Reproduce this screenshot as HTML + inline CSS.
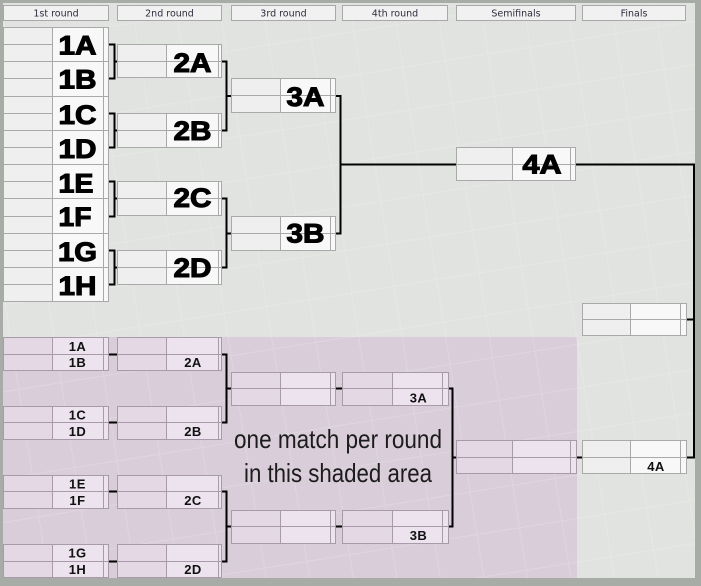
<!DOCTYPE html>
<html><head><meta charset="utf-8"><style>
html,body{margin:0;padding:0;background:#a7aca7;}
svg{display:block;}
.gl{fill:#efefef}.gw{fill:#f8f8f8}.gs{stroke:#a9a9a9;fill:none;stroke-width:1;shape-rendering:crispEdges}
.pl{fill:#e3d8e4}.pw{fill:#ece3ee}.ps{stroke:#a99aaa;fill:none;stroke-width:1;shape-rendering:crispEdges}
.k{stroke:#000;stroke-width:2;fill:none}
.hd{font-family:"DejaVu Sans","Liberation Sans",sans-serif;font-size:9.5px;fill:#2d2d3d;text-anchor:middle}
.big{font-family:"Liberation Sans",Arial,sans-serif;font-weight:bold;font-size:27px;fill:#000;stroke:#000;stroke-width:1.1;text-anchor:middle}
.sm{font-family:"Liberation Sans",Arial,sans-serif;font-weight:bold;font-size:13px;fill:#111;text-anchor:middle;letter-spacing:0.5px}
.note{font-family:"Liberation Sans",Arial,sans-serif;font-size:26px;fill:#1c1c1c;text-anchor:middle}
</style></head><body>
<svg width="701" height="586" viewBox="0 0 701 586" xmlns="http://www.w3.org/2000/svg">
<defs>
<pattern id="g" width="43" height="43" patternUnits="userSpaceOnUse" patternTransform="rotate(-9)">
<path d="M0 0.5H43M0.5 0V43" stroke="#ffffff" stroke-opacity="0.16" stroke-width="1" fill="none"/>
</pattern>
</defs>
<rect x="0" y="0" width="701" height="586" fill="#a7aca7"/>
<rect x="3" y="3" width="692" height="575" fill="#e1e3e0"/>
<rect x="3" y="337" width="574" height="241" fill="#d9cdd9"/>
<rect x="3" y="3" width="692" height="575" fill="url(#g)"/>

<!-- headers -->
<g>
<rect x="3.5" y="5.5" width="105" height="15" fill="#f1f1f1" stroke="#a8a8a8"/>
<rect x="117.5" y="5.5" width="104" height="15" fill="#f1f1f1" stroke="#a8a8a8"/>
<rect x="231.5" y="5.5" width="104" height="15" fill="#f1f1f1" stroke="#a8a8a8"/>
<rect x="342.5" y="5.5" width="105" height="15" fill="#f1f1f1" stroke="#a8a8a8"/>
<rect x="456.5" y="5.5" width="119" height="15" fill="#f1f1f1" stroke="#a8a8a8"/>
<rect x="582.5" y="5.5" width="103" height="15" fill="#f1f1f1" stroke="#a8a8a8"/>
<text class="hd" x="56" y="16.5">1st round</text>
<text class="hd" x="169.5" y="16.5">2nd round</text>
<text class="hd" x="283.5" y="16.5">3rd round</text>
<text class="hd" x="395" y="16.5">4th round</text>
<text class="hd" x="516" y="16.5">Semifinals</text>
<text class="hd" x="634" y="16.5">Finals</text>
</g>

<!-- TOP BRACKET -->
<rect class="gw" x="3" y="27" width="106" height="275"/>
<rect class="gl" x="3" y="27" width="50" height="275"/>
<path class="gs" d="M3.5 27.5H108.5V301.5H3.5Z M52.5 27.5V301.5 M103.5 27.5V301.5 M3.5 61.5H108.5 M3.5 96.5H108.5 M3.5 130.5H108.5 M3.5 164.5H108.5 M3.5 198.5H108.5 M3.5 233.5H108.5 M3.5 267.5H108.5 M3.5 44.5H52.5 M3.5 78.5H52.5 M3.5 113.5H52.5 M3.5 147.5H52.5 M3.5 181.5H52.5 M3.5 216.5H52.5 M3.5 250.5H52.5 M3.5 284.5H52.5"/>

<rect class="gw" x="117" y="44" width="105" height="34"/><rect class="gl" x="117" y="44" width="50" height="34"/>
<path class="gs" d="M117.5 44.5H221.5V77.5H117.5Z M166.5 44.5V77.5 M218.5 44.5V77.5 M117.5 61.5H221.5"/>
<rect class="gw" x="117" y="113" width="105" height="35"/><rect class="gl" x="117" y="113" width="50" height="35"/>
<path class="gs" d="M117.5 113.5H221.5V147.5H117.5Z M166.5 113.5V147.5 M218.5 113.5V147.5 M117.5 130.5H221.5"/>
<rect class="gw" x="117" y="181" width="105" height="35"/><rect class="gl" x="117" y="181" width="50" height="35"/>
<path class="gs" d="M117.5 181.5H221.5V215.5H117.5Z M166.5 181.5V215.5 M218.5 181.5V215.5 M117.5 198.5H221.5"/>
<rect class="gw" x="117" y="250" width="105" height="35"/><rect class="gl" x="117" y="250" width="50" height="35"/>
<path class="gs" d="M117.5 250.5H221.5V284.5H117.5Z M166.5 250.5V284.5 M218.5 250.5V284.5 M117.5 267.5H221.5"/>

<rect class="gw" x="231" y="78" width="105" height="35"/><rect class="gl" x="231" y="78" width="50" height="35"/>
<path class="gs" d="M231.5 78.5H335.5V112.5H231.5Z M280.5 78.5V112.5 M330.5 78.5V112.5 M231.5 95.5H335.5"/>
<rect class="gw" x="231" y="216" width="105" height="35"/><rect class="gl" x="231" y="216" width="50" height="35"/>
<path class="gs" d="M231.5 216.5H335.5V250.5H231.5Z M280.5 216.5V250.5 M330.5 216.5V250.5 M231.5 233.5H335.5"/>

<rect class="gw" x="456" y="147" width="120" height="34"/><rect class="gl" x="456" y="147" width="57" height="34"/>
<path class="gs" d="M456.5 147.5H575.5V180.5H456.5Z M512.5 147.5V180.5 M570.5 147.5V180.5 M456.5 164.5H575.5"/>

<rect class="gw" x="582" y="303" width="105" height="33"/><rect class="gl" x="582" y="303" width="49" height="33"/>
<path class="gs" d="M582.5 303.5H686.5V335.5H582.5Z M630.5 303.5V335.5 M680.5 303.5V335.5 M582.5 319.5H686.5"/>
<rect class="gw" x="582" y="440" width="105" height="34"/><rect class="gl" x="582" y="440" width="49" height="34"/>
<path class="gs" d="M582.5 440.5H686.5V473.5H582.5Z M630.5 440.5V473.5 M680.5 440.5V473.5 M582.5 457.5H686.5"/>

<!-- BOTTOM (purple) -->
<rect class="pw" x="3" y="337" width="106" height="34"/><rect class="pl" x="3" y="337" width="50" height="34"/>
<path class="ps" d="M3.5 337.5H108.5V370.5H3.5Z M52.5 337.5V370.5 M103.5 337.5V370.5 M3.5 354.5H108.5"/>
<rect class="pw" x="3" y="406" width="106" height="34"/><rect class="pl" x="3" y="406" width="50" height="34"/>
<path class="ps" d="M3.5 406.5H108.5V439.5H3.5Z M52.5 406.5V439.5 M103.5 406.5V439.5 M3.5 422.5H108.5"/>
<rect class="pw" x="3" y="475" width="106" height="34"/><rect class="pl" x="3" y="475" width="50" height="34"/>
<path class="ps" d="M3.5 475.5H108.5V508.5H3.5Z M52.5 475.5V508.5 M103.5 475.5V508.5 M3.5 491.5H108.5"/>
<rect class="pw" x="3" y="544" width="106" height="34"/><rect class="pl" x="3" y="544" width="50" height="34"/>
<path class="ps" d="M3.5 544.5H108.5V577.5H3.5Z M52.5 544.5V577.5 M103.5 544.5V577.5 M3.5 561.5H108.5"/>

<rect class="pw" x="117" y="337" width="105" height="34"/><rect class="pl" x="117" y="337" width="50" height="34"/>
<path class="ps" d="M117.5 337.5H221.5V370.5H117.5Z M166.5 337.5V370.5 M218.5 337.5V370.5 M117.5 354.5H221.5"/>
<rect class="pw" x="117" y="406" width="105" height="34"/><rect class="pl" x="117" y="406" width="50" height="34"/>
<path class="ps" d="M117.5 406.5H221.5V439.5H117.5Z M166.5 406.5V439.5 M218.5 406.5V439.5 M117.5 422.5H221.5"/>
<rect class="pw" x="117" y="475" width="105" height="34"/><rect class="pl" x="117" y="475" width="50" height="34"/>
<path class="ps" d="M117.5 475.5H221.5V508.5H117.5Z M166.5 475.5V508.5 M218.5 475.5V508.5 M117.5 491.5H221.5"/>
<rect class="pw" x="117" y="544" width="105" height="34"/><rect class="pl" x="117" y="544" width="50" height="34"/>
<path class="ps" d="M117.5 544.5H221.5V577.5H117.5Z M166.5 544.5V577.5 M218.5 544.5V577.5 M117.5 561.5H221.5"/>

<rect class="pw" x="231" y="372" width="105" height="34"/><rect class="pl" x="231" y="372" width="50" height="34"/>
<path class="ps" d="M231.5 372.5H335.5V405.5H231.5Z M280.5 372.5V405.5 M330.5 372.5V405.5 M231.5 388.5H335.5"/>
<rect class="pw" x="231" y="510" width="105" height="34"/><rect class="pl" x="231" y="510" width="50" height="34"/>
<path class="ps" d="M231.5 510.5H335.5V543.5H231.5Z M280.5 510.5V543.5 M330.5 510.5V543.5 M231.5 526.5H335.5"/>

<rect class="pw" x="342" y="372" width="107" height="34"/><rect class="pl" x="342" y="372" width="51" height="34"/>
<path class="ps" d="M342.5 372.5H448.5V405.5H342.5Z M392.5 372.5V405.5 M442.5 372.5V405.5 M342.5 388.5H448.5"/>
<rect class="pw" x="342" y="510" width="107" height="34"/><rect class="pl" x="342" y="510" width="51" height="34"/>
<path class="ps" d="M342.5 510.5H448.5V543.5H342.5Z M392.5 510.5V543.5 M442.5 510.5V543.5 M342.5 526.5H448.5"/>

<rect class="pw" x="456" y="440" width="121" height="34"/><rect class="pl" x="456" y="440" width="57" height="34"/>
<path class="ps" d="M456.5 440.5H576.5V473.5H456.5Z M512.5 440.5V473.5 M570.5 440.5V473.5 M456.5 457.5H576.5"/>

<!-- connectors -->
<path class="k" d="M109 44.5H114.5V78.5H109 M114.5 61.5H117
M109 113.5H114.5V147.5H109 M114.5 130.5H117
M109 181.5H114.5V216.5H109 M114.5 198.5H117
M109 250.5H114.5V284.5H109 M114.5 267.5H117
M222 61.5H226.5V130.5H222 M226.5 96H231
M222 198.5H226.5V267.5H222 M226.5 233.5H231
M336 96H340.5V233.5H336 M340.5 164.5H456
M576 164.5H694V457.5H687 M687 319.5H694
M109 354.5H117 M109 422.5H117 M109 491.5H117 M109 561.5H117
M222 354.5H226.5V422.5H222 M226.5 388.5H231
M222 491.5H226.5V561.5H222 M226.5 526.5H231
M336 388.5H342 M336 526.5H342
M449 388.5H452.5V526.5H449 M452.5 457.5H456
M577 457.5H582"/>

<!-- big labels -->
<text class="big" x="77.5" y="54.5" textLength="38" lengthAdjust="spacingAndGlyphs">1A</text>
<text class="big" x="77.5" y="88.5" textLength="38" lengthAdjust="spacingAndGlyphs">1B</text>
<text class="big" x="77.5" y="124" textLength="38" lengthAdjust="spacingAndGlyphs">1C</text>
<text class="big" x="77.5" y="158" textLength="38" lengthAdjust="spacingAndGlyphs">1D</text>
<text class="big" x="76" y="192.5" textLength="35" lengthAdjust="spacingAndGlyphs">1E</text>
<text class="big" x="75" y="226" textLength="33" lengthAdjust="spacingAndGlyphs">1F</text>
<text class="big" x="77.5" y="261" textLength="39" lengthAdjust="spacingAndGlyphs">1G</text>
<text class="big" x="77.5" y="295" textLength="38" lengthAdjust="spacingAndGlyphs">1H</text>
<text class="big" x="192.5" y="72" textLength="38" lengthAdjust="spacingAndGlyphs">2A</text>
<text class="big" x="192.5" y="140" textLength="38" lengthAdjust="spacingAndGlyphs">2B</text>
<text class="big" x="192.5" y="207" textLength="38" lengthAdjust="spacingAndGlyphs">2C</text>
<text class="big" x="192.5" y="277" textLength="38" lengthAdjust="spacingAndGlyphs">2D</text>
<text class="big" x="305.5" y="106" textLength="38" lengthAdjust="spacingAndGlyphs">3A</text>
<text class="big" x="305.5" y="242.5" textLength="38" lengthAdjust="spacingAndGlyphs">3B</text>
<text class="big" x="542" y="173.5" textLength="39" lengthAdjust="spacingAndGlyphs">4A</text>

<!-- small labels -->
<text class="sm" x="77.5" y="351">1A</text>
<text class="sm" x="77.5" y="367">1B</text>
<text class="sm" x="77.5" y="419.5">1C</text>
<text class="sm" x="77.5" y="436">1D</text>
<text class="sm" x="77.5" y="488.5">1E</text>
<text class="sm" x="77.5" y="505">1F</text>
<text class="sm" x="77.5" y="557.5">1G</text>
<text class="sm" x="77.5" y="574">1H</text>
<text class="sm" x="193" y="367">2A</text>
<text class="sm" x="193" y="436">2B</text>
<text class="sm" x="193" y="505">2C</text>
<text class="sm" x="193" y="574">2D</text>
<text class="sm" x="418.5" y="402.5">3A</text>
<text class="sm" x="418.5" y="540">3B</text>
<text class="sm" x="656" y="471">4A</text>

<!-- note -->
<text class="note" x="338" y="448" textLength="208" lengthAdjust="spacingAndGlyphs">one match per round</text>
<text class="note" x="338" y="482" textLength="188" lengthAdjust="spacingAndGlyphs">in this shaded area</text>
</svg>
</body></html>
